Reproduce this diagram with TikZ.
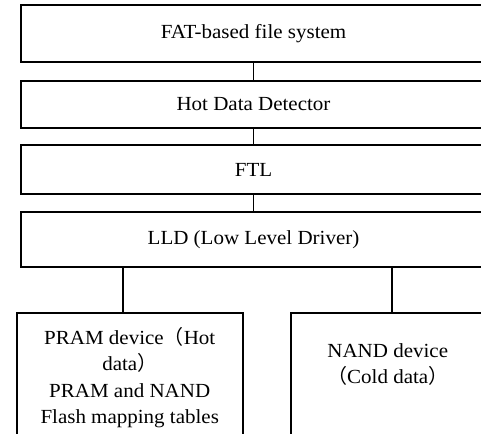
\documentclass[tikz,border=0pt]{standalone}
\usepackage{fontspec}
\setmainfont[FakeStretch=1.05]{Liberation Serif}
\newfontfamily\cjk{Noto Sans CJK SC}
\usepackage{tikz}

\begin{document}
\begin{tikzpicture}[x=1pt,y=-1pt,line width=1.5pt,
  layer/.style={draw,minimum width=465pt,inner sep=0pt},
  dev/.style={draw,anchor=north west,align=center,inner sep=0pt}]
\useasboundingbox (0,0) rectangle (481,433);
\fontsize{20}{26.5}\selectfont
\node[layer,minimum height=57pt] (fs) at (253.5,33.5) {FAT-based file system};
\node[layer,minimum height=47pt] (hdd) at (253.5,104.5) {Hot Data Detector};
\node[layer,minimum height=49pt] (ftl) at (253.5,169.5) {FTL};
\node[layer,minimum height=55pt] (lld) at (253.5,239.5) {LLD (Low Level Driver)};

\node[dev,minimum width=226pt,text height=111pt,text depth=40pt] (pram) at (16,312)
  {PRAM device{\cjk （}Hot\\data{\cjk ）}\\PRAM and NAND\\Flash mapping tables};
\node[dev,minimum width=194pt,text height=71pt,text depth=80pt] (nand) at (290,312)
  {NAND device\\{\cjk （}Cold data{\cjk ）}};

\draw (fs) -- (hdd);
\draw (hdd) -- (ftl);
\draw (ftl) -- (lld);
\coordinate (pl) at (123,312);
\coordinate (nl) at (392,312);
\draw (pl |- lld.south) -- (pl);
\draw (nl |- lld.south) -- (nl);
\end{tikzpicture}
\end{document}
